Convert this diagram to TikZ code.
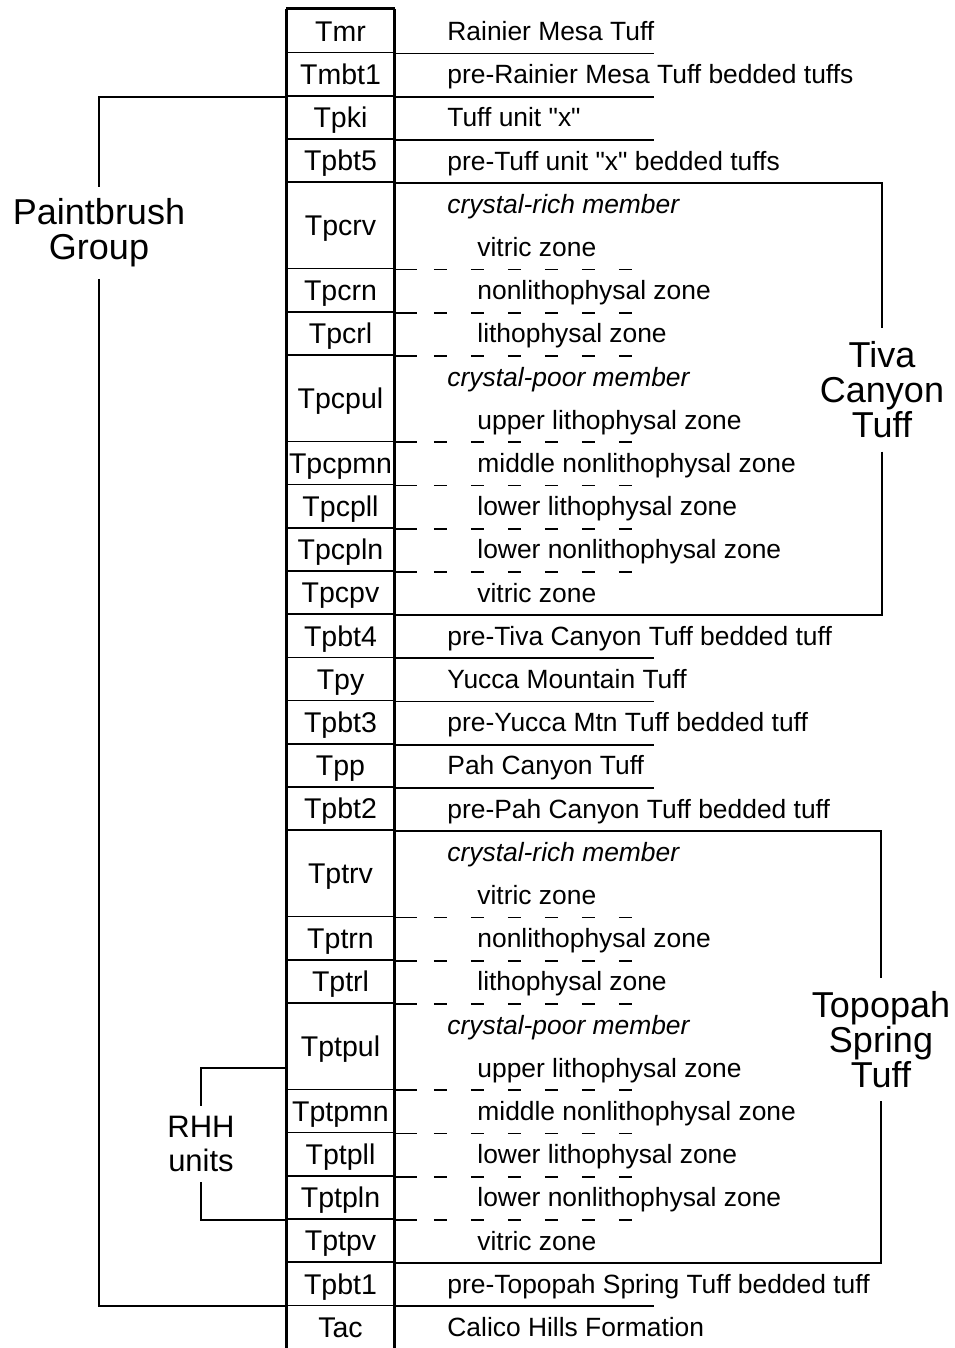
\documentclass[tikz,border=0pt]{standalone}
\usepackage{fontspec}
\setmainfont{Liberation Sans}
\begin{document}
\begin{tikzpicture}
    [x=0.5pt,y=-21.6pt,
     cell/.style={draw,line width=0.8pt,minimum width=53.5pt,minimum height=21.6pt,inner sep=0pt,
       text height=10.2pt,text depth=0pt,font=\fontsize{14.25}{16}\selectfont},
     dbl/.style={cell,minimum height=43.2pt},
     desc/.style={anchor=west,inner sep=0pt,text height=9.45pt,text depth=0pt,font=\fontsize{13.2}{15}\selectfont},
     memb/.style={desc,font=\fontsize{13.2}{15}\selectfont\itshape},
     sep/.style={line width=0.9pt},
     zonesep/.style={line width=0.9pt,dash pattern=on 11pt off 8.5pt on 6.5pt off 12pt on 6.5pt off 12pt
       on 6.5pt off 12pt on 6.5pt off 12pt on 6.5pt off 12pt on 6.5pt off 12pt},
     grouplabel/.style={align=center,inner sep=6.5pt,font=\fontsize{18}{17.5}\selectfont},
     rhhlabel/.style={align=center,inner sep=5pt,font=\fontsize{15.5}{17}\selectfont}]
    \useasboundingbox (0,-0.7176) rectangle (954,30.486);
    \node [cell] (Tmr) at (340.5,0) {Tmr};
    \node [desc] (dTmr) at (447,0) {Rainier Mesa Tuff};
    \node [cell] (Tmbt1) at (340.5,1) {Tmbt1};
    \node [desc] (dTmbt1) at (447,1) {pre-Rainier Mesa Tuff bedded tuffs};
    \node [cell] (Tpki) at (340.5,2) {Tpki};
    \node [desc] (dTpki) at (447,2) {Tuff unit \textquotedbl x\textquotedbl};
    \node [cell] (Tpbt5) at (340.5,3) {Tpbt5};
    \node [desc] (dTpbt5) at (447,3) {pre-Tuff unit \textquotedbl x\textquotedbl{} bedded tuffs};
    \node [dbl] (Tpcrv) at (340.5,4.5) {Tpcrv};
    \node [memb] (dTpcrv1) at (447,4) {crystal-rich member};
    \node [desc] (dTpcrv2) at (477,5) {vitric zone};
    \node [cell] (Tpcrn) at (340.5,6) {Tpcrn};
    \node [desc] (dTpcrn) at (477,6) {nonlithophysal zone};
    \node [cell] (Tpcrl) at (340.5,7) {Tpcrl};
    \node [desc] (dTpcrl) at (477,7) {lithophysal zone};
    \node [dbl] (Tpcpul) at (340.5,8.5) {Tpcpul};
    \node [memb] (dTpcpul1) at (447,8) {crystal-poor member};
    \node [desc] (dTpcpul2) at (477,9) {upper lithophysal zone};
    \node [cell] (Tpcpmn) at (340.5,10) {Tpcpmn};
    \node [desc] (dTpcpmn) at (477,10) {middle nonlithophysal zone};
    \node [cell] (Tpcpll) at (340.5,11) {Tpcpll};
    \node [desc] (dTpcpll) at (477,11) {lower lithophysal zone};
    \node [cell] (Tpcpln) at (340.5,12) {Tpcpln};
    \node [desc] (dTpcpln) at (477,12) {lower nonlithophysal zone};
    \node [cell] (Tpcpv) at (340.5,13) {Tpcpv};
    \node [desc] (dTpcpv) at (477,13) {vitric zone};
    \node [cell] (Tpbt4) at (340.5,14) {Tpbt4};
    \node [desc] (dTpbt4) at (447,14) {pre-Tiva Canyon Tuff bedded tuff};
    \node [cell] (Tpy) at (340.5,15) {Tpy};
    \node [desc] (dTpy) at (447,15) {Yucca Mountain Tuff};
    \node [cell] (Tpbt3) at (340.5,16) {Tpbt3};
    \node [desc] (dTpbt3) at (447,16) {pre-Yucca Mtn Tuff bedded tuff};
    \node [cell] (Tpp) at (340.5,17) {Tpp};
    \node [desc] (dTpp) at (447,17) {Pah Canyon Tuff};
    \node [cell] (Tpbt2) at (340.5,18) {Tpbt2};
    \node [desc] (dTpbt2) at (447,18) {pre-Pah Canyon Tuff bedded tuff};
    \node [dbl] (Tptrv) at (340.5,19.5) {Tptrv};
    \node [memb] (dTptrv1) at (447,19) {crystal-rich member};
    \node [desc] (dTptrv2) at (477,20) {vitric zone};
    \node [cell] (Tptrn) at (340.5,21) {Tptrn};
    \node [desc] (dTptrn) at (477,21) {nonlithophysal zone};
    \node [cell] (Tptrl) at (340.5,22) {Tptrl};
    \node [desc] (dTptrl) at (477,22) {lithophysal zone};
    \node [dbl] (Tptpul) at (340.5,23.5) {Tptpul};
    \node [memb] (dTptpul1) at (447,23) {crystal-poor member};
    \node [desc] (dTptpul2) at (477,24) {upper lithophysal zone};
    \node [cell] (Tptpmn) at (340.5,25) {Tptpmn};
    \node [desc] (dTptpmn) at (477,25) {middle nonlithophysal zone};
    \node [cell] (Tptpll) at (340.5,26) {Tptpll};
    \node [desc] (dTptpll) at (477,26) {lower lithophysal zone};
    \node [cell] (Tptpln) at (340.5,27) {Tptpln};
    \node [desc] (dTptpln) at (477,27) {lower nonlithophysal zone};
    \node [cell] (Tptpv) at (340.5,28) {Tptpv};
    \node [desc] (dTptpv) at (477,28) {vitric zone};
    \node [cell] (Tpbt1) at (340.5,29) {Tpbt1};
    \node [desc] (dTpbt1) at (447,29) {pre-Topopah Spring Tuff bedded tuff};
    \node [cell] (Tac) at (340.5,30) {Tac};
    \node [desc] (dTac) at (447,30) {Calico Hills Formation};
    \draw [line width=1.2pt] (Tmr.north west) -- (Tac.south west);
    \draw [line width=1.2pt] (Tmr.north east) -- (Tac.south east);
    \draw [line width=1.5pt] (Tmr.north west) -- (Tmr.north east);
    \draw [sep] (Tmr.south east) -- +(259,0);
    \draw [sep] (Tmbt1.south east) -- +(259,0);
    \draw [sep] (Tpki.south east) -- +(259,0);
    \draw [sep] (Tpbt4.south east) -- +(259,0);
    \draw [sep] (Tpy.south east) -- +(259,0);
    \draw [sep] (Tpbt3.south east) -- +(259,0);
    \draw [sep] (Tpp.south east) -- +(259,0);
    \draw [sep] (Tpbt1.south east) -- +(259,0);
    \draw [zonesep] (Tpcrv.south east) -- +(237,0);
    \draw [zonesep] (Tpcrn.south east) -- +(237,0);
    \draw [zonesep] (Tpcrl.south east) -- +(237,0);
    \draw [zonesep] (Tpcpul.south east) -- +(237,0);
    \draw [zonesep] (Tpcpmn.south east) -- +(237,0);
    \draw [zonesep] (Tpcpll.south east) -- +(237,0);
    \draw [zonesep] (Tpcpln.south east) -- +(237,0);
    \draw [zonesep] (Tptrv.south east) -- +(237,0);
    \draw [zonesep] (Tptrn.south east) -- +(237,0);
    \draw [zonesep] (Tptrl.south east) -- +(237,0);
    \draw [zonesep] (Tptpul.south east) -- +(237,0);
    \draw [zonesep] (Tptpmn.south east) -- +(237,0);
    \draw [zonesep] (Tptpll.south east) -- +(237,0);
    \draw [zonesep] (Tptpln.south east) -- +(237,0);
    \node [grouplabel,inner sep=5.5pt] (pg) at (99,4.68) {Paintbrush\\Group};
    \node [grouplabel] (tct) at (882,8.31) {Tiva\\Canyon\\Tuff};
    \node [grouplabel] (tst) at (881,23.35) {Topopah\\Spring\\Tuff};
    \node [rhhlabel] (rhh) at (201,25.77) {RHH\\units};
    \draw [sep] (Tmbt1.south west) -| (pg.north);
    \draw [sep] (pg.south) |- (Tpbt1.south west);
    \draw [sep] (Tpbt5.south east) -| (tct.north);
    \draw [sep] (tct.south) |- (Tpcpv.south east);
    \draw [sep] (Tpbt2.south east) -| (tst.north);
    \draw [sep] (tst.south) |- (Tptpv.south east);
    \draw [sep] (Tptpul.west |- dTptpul2.west) -| (rhh.north);
    \draw [sep] (rhh.south) |- (Tptpln.south west);
  \end{tikzpicture}
\end{document}
